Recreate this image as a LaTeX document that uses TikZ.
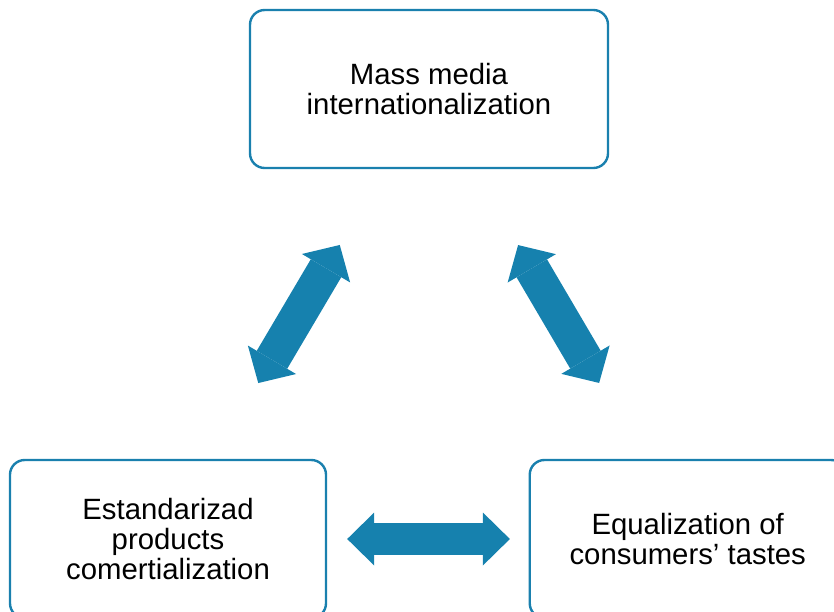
\documentclass[tikz,border=0pt]{standalone}
\usepackage{fontspec}
\setmainfont{Liberation Sans}
\usepackage{xcolor}
\usetikzlibrary{arrows.meta,calc,positioning}
\definecolor{boxblue}{RGB}{26,128,174}
\definecolor{arrowblue}{RGB}{22,129,174}

\begin{document}
\begin{tikzpicture}[x=0.75pt,y=-0.75pt,node distance=2cm]
  \tikzstyle{box}=[draw=boxblue,line width=1.8pt,rounded corners=11pt,align=center,
    minimum width=237pt,minimum height=118.5pt,font=\fontsize{22}{22.5}\selectfont]
  \tikzstyle{link}=[draw=arrowblue,line width=24pt,
    >={Triangle[width=39.75pt,length=20.25pt,line width=0pt]},<->]
  \tikzstyle{slant}=[link,line width=26.5pt,shorten <=66pt,shorten >=66pt,
    >={Triangle[width=42pt,length=20.25pt,line width=0pt]}]
  \useasboundingbox (0,0) rectangle (834,611);
  \node[box,minimum width=268.5pt] (mm) at (429,89) {Mass media\\internationalization};
  \node[box] (esp) at (168,539) {Estandarizad\\products\\comertialization};
  \node[box] (eq) [right=151pt of esp] {Equalization of\\consumers’ tastes};
  \path[slant] ($(mm.south)+(-44.5,0)$) -- ($(esp.north)+(45.5,0)$);
  \path[slant] ($(mm.south)+(44.5,0)$) -- ($(eq.north)+(-44,0)$);
  \path[link,shorten <=15pt,shorten >=14pt] (esp.east) -- (eq.west);
\end{tikzpicture}
\end{document}
